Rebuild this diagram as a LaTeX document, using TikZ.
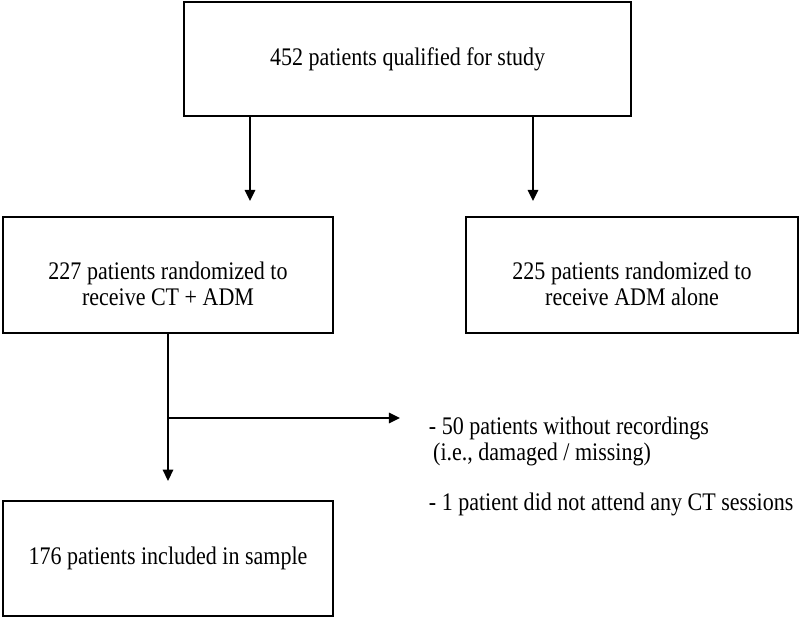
\documentclass[tikz,border=0pt]{standalone}
\usepackage{fontspec}
\setmainfont[FakeStretch=0.87]{Liberation Serif}
\usetikzlibrary{arrows.meta}
\usetikzlibrary{calc}

\tikzset{
  box/.style={draw, line width=1.4pt, align=center, font=\fontsize{18}{18.5}\selectfont},
  flow/.style={-{Triangle[length=2.8mm,width=2.6mm]}, line width=1.4pt},
}
\newcommand{\lowerby}{\rule{0pt}{25pt}}

\begin{document}
\begin{tikzpicture}
            \useasboundingbox (0,0) rectangle (20,-15.525);

            \node[box, minimum width=11.175cm, minimum height=2.85cm] (qual) at (10.19,-1.475) {452 patients qualified for study};
            \node[box, minimum width=8.25cm, minimum height=2.9cm] (ct) at (4.2,-6.875) {\lowerby227 patients randomized to\\receive CT + ADM};
            \node[box, minimum width=8.3cm, minimum height=2.9cm] (adm) at (15.8,-6.875) {\lowerby225 patients randomized to\\receive ADM alone};
            \node[box, minimum width=8.25cm, minimum height=2.875cm] (incl) at (4.2,-13.96) {176 patients included in sample};
            \node[anchor=west, align=left, font=\fontsize{18}{18.5}\selectfont] (excl) at (10.6,-11.65)
                {- 50 patients without recordings\\\hspace{3pt}(i.e., damaged / missing)\\[17pt]- 1 patient did not attend any CT sessions};

            \coordinate (cttip) at (6.25,-5.025);
            \coordinate (admtip) at (13.325,-5.025);
            \coordinate (incltip) at ($(incl.north)+(0,0.475)$);
            \coordinate (split) at ($(ct.south)+(0,-2.1)$);
            \coordinate (excltip) at ($(split)+(5.8,0)$);

            \draw[flow] (qual.south -| cttip) -- (cttip);
            \draw[flow] (qual.south -| admtip) -- (admtip);
            \draw[flow] (ct.south) -- (incltip);
            \draw[flow] (split) -- (excltip);
        \end{tikzpicture}
\end{document}
